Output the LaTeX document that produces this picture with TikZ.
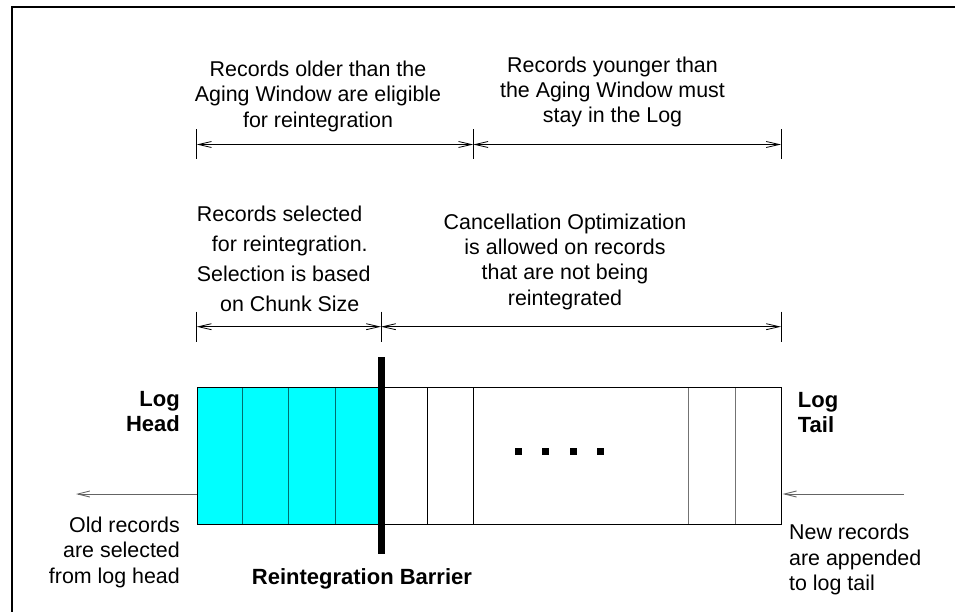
\documentclass[tikz,border=0pt]{standalone}
\usepackage{fontspec}
\setmainfont{Liberation Sans}
\usetikzlibrary{arrows.meta}
\definecolor{aqua}{RGB}{0,255,255}
\definecolor{celldiv}{RGB}{0,110,110}
\definecolor{feedgray}{RGB}{100,100,100}
\begin{document}
\begin{tikzpicture}[x=1pt,y=-1pt,
  txt/.style={inner sep=0pt, font=\fontsize{21.4}{25.5}\selectfont},
  boldtxt/.style={inner sep=0pt, font=\fontsize{22}{25}\selectfont\bfseries},
  barb/.tip={Straight Barb[length=13pt,width=6pt]},
  dimline/.style={line width=0.8pt, barb-barb},
  tickline/.style={line width=0.8pt},
  feed/.style={line width=0.9pt, draw=feedgray, -{Straight Barb[length=12pt,width=6pt]}},
  cellline/.style={line width=0.8pt},
]
\useasboundingbox (0,0) rectangle (955,612);
\fill[white] (0,0) rectangle (955,612);

% frame
\draw[line width=1.4pt] (12,612) -- (12,7) -- (955,7);

% top dimension line
\coordinate (dA) at (196.7,144.5);
\coordinate (dB) at (473.3,144.5);
\coordinate (dC) at (781,144.5);
\foreach \c in {dA,dB,dC} \draw[tickline] ([yshift=15pt]\c) -- ([yshift=-15pt]\c);
\draw[dimline] (dA) -- (dB);
\draw[dimline] (dB) -- (dC);

% second dimension line
\coordinate (eA) at (196.7,326.7);
\coordinate (eB) at (381,326.7);
\coordinate (eC) at (781,326.7);
\foreach \c in {eA,eB,eC} \draw[tickline] ([yshift=15pt]\c) -- ([yshift=-15pt]\c);
\draw[dimline] (eA) -- (eB);
\draw[dimline] (eB) -- (eC);

% texts above
\node[txt, align=center, anchor=north] (older) at (318,60.6)
  {Records older than the\\Aging Window are eligible\\for reintegration};
\node[txt, align=center, anchor=north, font=\fontsize{21.4}{25}\selectfont] (younger) at (612.5,56.3)
  {Records younger than\\the Aging Window must\\stay in the Log};
\node[txt, align=left, anchor=north west, font=\fontsize{21.4}{30.2}\selectfont] (chunk) at (196.7,205.6)
  {Records selected\\\hspace*{15pt}for reintegration.\\Selection is based\\\hspace*{23.3pt}on Chunk Size};
\node[txt, align=center, anchor=north, font=\fontsize{21.4}{25.3}\selectfont] (cancel) at (565,213.6)
  {Cancellation Optimization\\is allowed on records\\that are not being\\reintegrated};

% log box
\fill[aqua] (196.7,387.3) rectangle (381,524);
\foreach \x in {242.7,288.7,335} \draw[cellline, draw=celldiv] (\x,387.3) -- (\x,524);
\foreach \x in {427.3,473.3} \draw[cellline] (\x,387.3) -- (\x,524);
\foreach \x in {688.7,735} \draw[cellline, draw=black!55] (\x,387.3) -- (\x,524);
\node[draw, line width=0.9pt, anchor=north west, inner sep=0pt,
      minimum width=584.3pt, minimum height=136.7pt] (log) at (196.7,387.3) {};

% dots
\foreach \x in {518.3,545.7,573.3,600.7}
  \fill (\x-3.5,448.2) rectangle (\x+3.5,455.2);

% barrier
\coordinate (bTop) at (381,357);
\coordinate (bBot) at (381,554);
\draw[line width=7pt] (bTop) -- (bBot);

% labels around the log
\node[boldtxt, align=right, anchor=north east] (head) at (180,391) {Log\\Head};
\node[boldtxt, align=left, anchor=north west] (tail) at (797.7,392.5) {Log\\Tail};
\node[txt, align=right, anchor=north east] (old) at (180,516.3)
  {Old records\\are selected\\from log head};
\node[txt, align=left, anchor=north west] (new) at (789,523.9)
  {New records\\are appended\\to log tail};
\node[boldtxt, anchor=base west] (barrierlbl) at (251.7,584) {Reintegration Barrier};

% feed arrows
\coordinate (headOut) at (196.7,494);
\coordinate (outL) at (76,494);
\coordinate (inR) at (904,494);
\coordinate (tailIn) at (782.7,494);
\draw[feed] (headOut) -- (outL);
\draw[feed] (inR) -- (tailIn);
\end{tikzpicture}
\end{document}
